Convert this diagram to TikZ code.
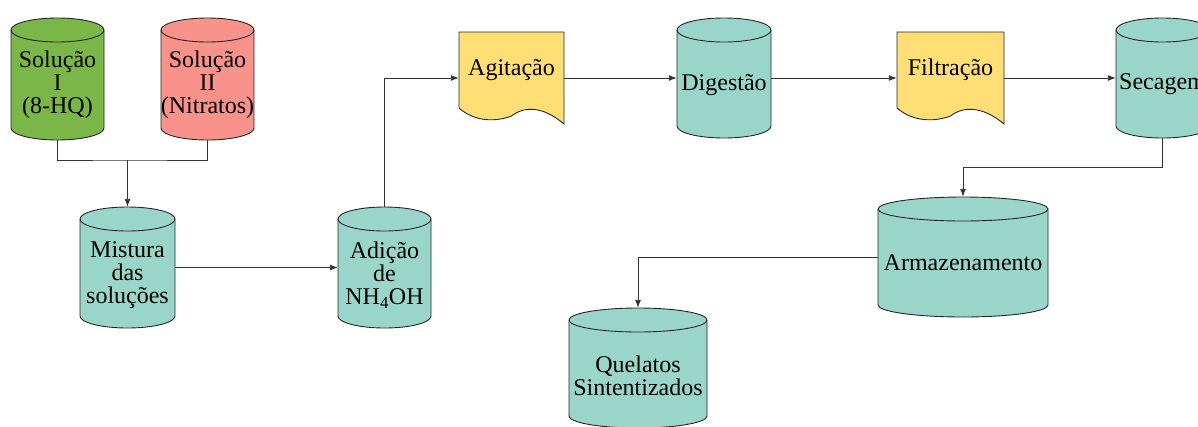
\documentclass[tikz,border=0pt]{standalone}
\usepackage{fontspec}
\setmainfont{Liberation Serif}
\usetikzlibrary{arrows.meta}
\definecolor{cgreen}{HTML}{7AB648}
\definecolor{cred}{HTML}{F8928A}
\definecolor{cteal}{HTML}{9AD5CA}
\definecolor{cyellow}{HTML}{FFDF75}
\tikzset{
  shapeline/.style={draw=black!85, line width=0.9pt},
  box/.style={draw=none, inner sep=0pt},
  lbl/.style={align=center, inner sep=0pt, font=\fontsize{24}{23}\selectfont},
  conn/.style={draw=black!80, line width=0.9pt},
  arr/.style={-{Latex[length=8pt,width=6pt]}}
}
% name, x, y, w, h, fill, text, text shift
\newcommand\cylnode[8]{%
  \filldraw[shapeline, fill=#6] ({#2-#4/2},{#3-#5/2+12}) -- ({#2-#4/2},{#3+#5/2-12})
    arc[start angle=180,end angle=360,x radius={#4*0.5pt},y radius=12pt]
    -- ({#2+#4/2},{#3-#5/2+12})
    arc[start angle=0,end angle=180,x radius={#4*0.5pt},y radius=12pt] -- cycle;
  \draw[shapeline] ({#2-#4/2},{#3-#5/2+12})
    arc[start angle=180,end angle=360,x radius={#4*0.5pt},y radius=12pt];
  \node[box, minimum width=#4pt, minimum height=#5pt] (#1) at (#2,#3) {};
  \node[lbl] (#1-t) at (#2,{#3+#8}) {#7};
}
\newcommand\docnode[8]{%
  \filldraw[shapeline, fill=#6] ({#2-#4/2},{#3-#5/2}) -- ({#2+#4/2},{#3-#5/2})
    -- ({#2+#4/2},{#3+#5/2})
    .. controls ({#2+#4*0.3},{#3+#5/2-18}) and ({#2+#4*0.12},{#3+#5/2-18}) .. ({#2},{#3+#5/2-8})
    .. controls ({#2-#4*0.15},{#3+#5/2-2}) and ({#2-#4*0.35},{#3+#5/2-2}) .. ({#2-#4/2},{#3+#5/2-16})
    -- cycle;
  \node[box, minimum width=#4pt, minimum height=#5pt] (#1) at (#2,#3) {};
  \node[lbl] (#1-t) at (#2,{#3+#8}) {#7};
}
\begin{document}
\begin{tikzpicture}[x=1pt,y=-1pt]
\useasboundingbox (0,0) rectangle (1198,426);
\clip (0,0) rectangle (1198,426);
\cylnode{s1}{57.5}{79}{93}{122}{cgreen}{Solução\\I\\(8-HQ)}{6}
\cylnode{s2}{207.5}{79}{93}{122}{cred}{Solução\\II\\(Nitratos)}{6}
\cylnode{mix}{127.5}{267.5}{95}{121}{cteal}{Mistura\\das\\soluções}{8}
\cylnode{add}{384.5}{267.5}{93}{121}{cteal}{Adição\\de\\NH\textsubscript{4}OH}{8}
\docnode{agit}{511.5}{78}{105}{92}{cyellow}{Agitação}{-8}
\cylnode{dig}{724}{78}{94}{120}{cteal}{Digestão}{7}
\docnode{filt}{950.5}{78}{107}{92}{cyellow}{Filtração}{-8}
\cylnode{sec}{1162.5}{78}{93}{120}{cteal}{Secagem}{6}
\cylnode{arm}{963}{257}{170}{120}{cteal}{Armazenamento}{6}
\cylnode{quel}{638}{368}{138}{120}{cteal}{Quelatos\\Sintentizados}{8}
\coordinate (j) at (127.5,160);
\coordinate (k) at (963,167);
\draw[conn] (s1.south) |- (j) -| (s2.south);
\draw[conn,arr] (j) -- (mix.north);
\draw[conn,arr] (mix.east) -- (add.west);
\draw[conn,arr] (add.north) |- (agit.west);
\draw[conn,arr] (agit.east) -- (dig.west);
\draw[conn,arr] (dig.east) -- (filt.west);
\draw[conn,arr] (filt.east) -- (sec.west);
\draw[conn,arr] (sec.south) |- (k) -- (arm.north);
\draw[conn,arr] (arm.west) -| (quel.north);
\end{tikzpicture}
\end{document}
